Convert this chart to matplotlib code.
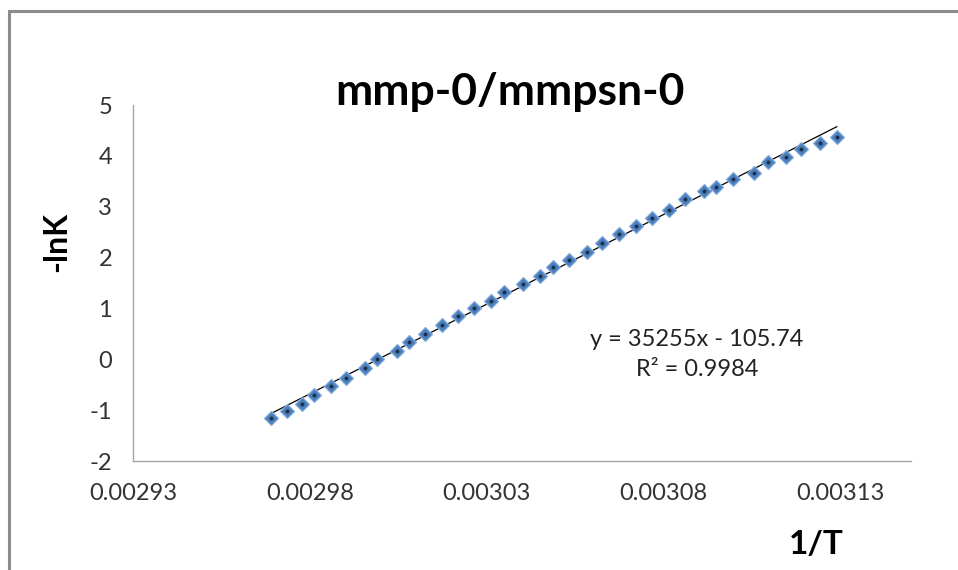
import numpy as np
import matplotlib
matplotlib.use("Agg")
import matplotlib.pyplot as plt
from matplotlib.patches import Rectangle

# 1/T values and -lnK values
inv_T = [0.0029690, 0.0029736, 0.0029777, 0.0029813, 0.0029859, 0.0029902,
         0.0029955, 0.0029991, 0.0030047, 0.0030081, 0.0030126, 0.0030173,
         0.0030218, 0.0030264, 0.0030312, 0.0030349, 0.0030404, 0.0030452,
         0.0030488, 0.0030533, 0.0030583, 0.0030625, 0.0030674, 0.0030723,
         0.0030768, 0.0030816, 0.0030862, 0.0030914, 0.0030949, 0.0030998,
         0.0031057, 0.0031096, 0.0031146, 0.0031189, 0.0031242, 0.0031290]
neg_lnK = [-1.15, -1.02, -0.87, -0.70, -0.52, -0.36,
           -0.18, 0.00, 0.16, 0.34, 0.49, 0.67,
           0.85, 1.00, 1.15, 1.33, 1.48, 1.63,
           1.81, 1.95, 2.10, 2.29, 2.46, 2.63,
           2.77, 2.94, 3.16, 3.30, 3.39, 3.54,
           3.67, 3.87, 3.97, 4.14, 4.25, 4.37]

# linear trendline as printed on the chart
slope = 35255
intercept = -105.74
r2 = 0.9984

x_ticks = [0.00293, 0.00298, 0.00303, 0.00308, 0.00313]
y_ticks = [-2, -1, 0, 1, 2, 3, 4, 5]

plt.rcParams['font.family'] = ['Lato', 'DejaVu Sans']
plt.rcParams['axes.unicode_minus'] = False

fig = plt.figure(figsize=(9.58, 5.70), dpi=100)
ax = fig.add_axes([133 / 958, 1 - 461 / 570, (911 - 133) / 958, (461 - 105) / 570])

x = np.array(inv_T)
y = np.array(neg_lnK)

ax.plot(x, y, linestyle='none', marker='D', markersize=7,
        markerfacecolor='#4a7ebb', markeredgecolor='#86acdc', markeredgewidth=0.9, zorder=3)
ax.plot(x, y, linestyle='none', marker='o', markersize=1.8,
        color='#1c2f4a', zorder=4)

xl = np.array([x.min(), x.max()])
ax.plot(xl, slope * xl + intercept, color='black', linewidth=0.9, zorder=2)

ax.set_xlim(0.00293, 0.00315)
ax.set_ylim(-2, 5)
ax.set_xticks(x_ticks)
ax.set_xticklabels([f"{v:.5f}" for v in x_ticks])
ax.set_yticks(y_ticks)
ax.tick_params(length=0, labelsize=17, colors='#333333')
ax.tick_params(axis='x', pad=16)
ax.tick_params(axis='y', pad=15)

for side in ['top', 'right']:
    ax.spines[side].set_visible(False)
for side in ['left', 'bottom']:
    ax.spines[side].set_color('#a6a6a6')
    ax.spines[side].set_linewidth(1.0)

fig.text(510 / 958, 1 - 92 / 570, 'mmp-0/mmpsn-0', ha='center', va='center',
         fontsize=32, fontweight='bold')
fig.text(57 / 958, 1 - 242 / 570, '-lnK', ha='center', va='center', rotation=90,
         fontsize=23, fontweight='bold')
fig.text(816 / 958, 1 - 545 / 570, '1/T', ha='center', va='center',
         fontsize=24, fontweight='bold')

fig.text(697 / 958, 1 - 340 / 570, f'y = {slope}x - {abs(intercept)}', ha='center', va='center',
         fontsize=17, color='#222222')
fig.text(697 / 958, 1 - 369 / 570, f'R² = {r2}', ha='center', va='center',
         fontsize=17, color='#222222')

# chart area border
fig.patches.append(Rectangle((9 / 958, -0.05), 1.1, 1 - 11 / 570 + 0.05, transform=fig.transFigure,
                             fill=False, edgecolor='#8c8c8c', linewidth=2.2))

fig.savefig('out.png', dpi=100)
